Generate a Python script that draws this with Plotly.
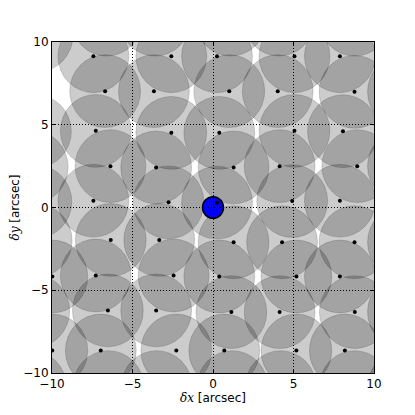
import plotly.graph_objects as go

# fibre centres visible inside the field [arcsec]
dot_x = [-7.43, -2.59, 0.25, 5.06, 7.88,
         -6.70, -3.67, 1.01, 4.02, 8.79,
         -7.28, -2.59, 0.39, 5.06, 8.07,
         -6.37, -3.53, 1.28, 4.14, 8.96,
         -7.43, -2.76, 0.25, 4.92, 7.88,
         -6.35, -3.34, 1.28, 4.29, 8.79,
         -9.98, -7.28, -2.45, 0.39, 5.18, 7.88,
         -6.53, -3.53, 1.14, 4.14, 8.81,
         -9.98, -6.97, -2.28, 0.70, 5.18, 8.19]
dot_y = [9.14, 9.14, 9.14, 9.14, 9.14,
         7.03, 7.03, 7.03, 7.03, 6.99,
         4.63, 4.51, 4.51, 4.63, 4.61,
         2.50, 2.42, 2.42, 2.50, 2.50,
         0.41, 0.31, 0.29, 0.39, 0.41,
         -1.96, -1.96, -2.10, -2.10, -2.10,
         -4.17, -4.11, -4.11, -4.17, -4.17, -4.17,
         -6.22, -6.22, -6.32, -6.32, -6.32,
         -8.64, -8.64, -8.64, -8.64, -8.64, -8.64]

# fibres whose centres fall just outside the field (only partly visible)
edge_x = [-6.6, -3.6, 1.1, 4.1, 8.8, 11.8,
          -11.3, -6.5, -3.5, 1.2, 4.2, 8.8, 11.8,
          -10.9, -11.0, -11.2, -10.97, -10.95, -11.1,
          11.8, 11.8, 11.8, 11.8]
edge_y = [11.35, 11.35, 11.35, 11.35, 11.35, 11.35,
          -10.85, -10.85, -10.85, -10.85, -10.85, -10.85, -10.85,
          10.40, 4.60, 2.45, 0.35, -2.00, -6.25,
          7.00, 2.50, -2.10, -6.30]

fiber_r = 2.2
source_xy = (0.0, 0.0)
source_r = 0.65

ticks = [-10, -5, 0, 5, 10]

fig = go.Figure()

shapes = []
for cx, cy in zip(dot_x + edge_x, dot_y + edge_y):
    shapes.append(dict(type="circle", xref="x", yref="y", layer="below",
                       x0=cx - fiber_r, x1=cx + fiber_r,
                       y0=cy - fiber_r, y1=cy + fiber_r,
                       fillcolor="rgba(0,0,0,0.2)",
                       line=dict(color="rgba(0,0,0,0.15)", width=1)))
# the source
shapes.append(dict(type="circle", xref="x", yref="y", layer="below",
                   x0=source_xy[0] - source_r, x1=source_xy[0] + source_r,
                   y0=source_xy[1] - source_r, y1=source_xy[1] + source_r,
                   fillcolor="#0000ff", line=dict(color="black", width=1.5)))

fig.add_trace(go.Scatter(x=dot_x, y=dot_y, mode="markers",
                         marker=dict(color="black", size=4),
                         hoverinfo="skip", showlegend=False))

axis_common = dict(range=[-10, 10], tickvals=ticks, ticks="inside", ticklen=4,
                   tickcolor="black", mirror="allticks", showline=True,
                   linecolor="black", linewidth=1, showgrid=True,
                   gridcolor="black", griddash="1px,2px", gridwidth=1,
                   zeroline=False, layer="above traces", automargin=False,
                   tickfont=dict(family="DejaVu Sans", size=12, color="black"))

# page body has an 8px margin, so the figure is a bit smaller than the window
fig.update_layout(
    width=407, height=407,
    margin=dict(l=44, r=41, t=34, b=42),
    paper_bgcolor="white", plot_bgcolor="white",
    shapes=shapes,
    xaxis=dict(axis_common,
               title=dict(text="<span style='font-family:DejaVu Serif'><i>δx</i></span> [arcsec]",
                          font=dict(family="DejaVu Sans", size=12, color="black"),
                          standoff=3)),
    yaxis=dict(axis_common,
               title=dict(text="<span style='font-family:DejaVu Serif'><i>δy</i></span> [arcsec]",
                          font=dict(family="DejaVu Sans", size=12, color="black"),
                          standoff=10)),
)

fig.write_html("out.html")
